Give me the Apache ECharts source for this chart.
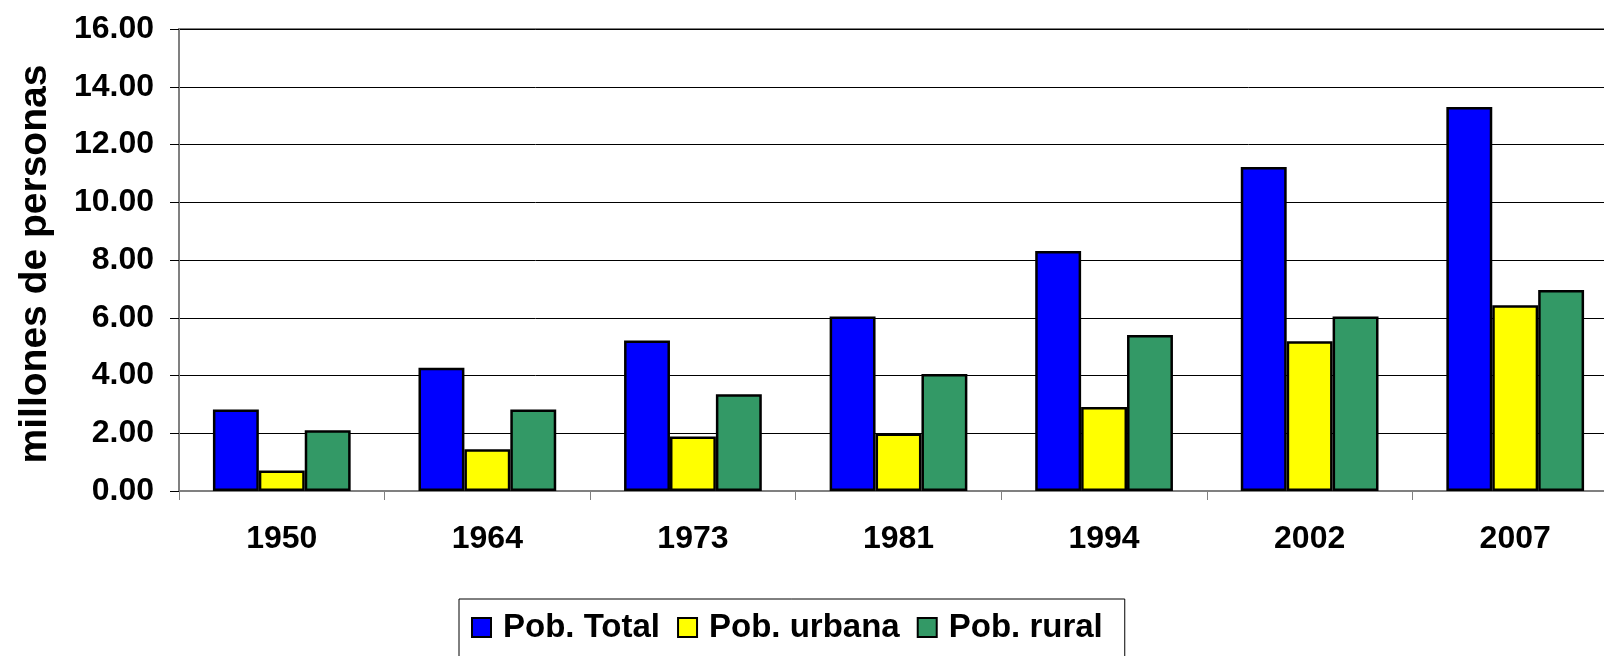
<!DOCTYPE html>
<html>
<head>
<meta charset="utf-8">
<title>Población total, urbana y rural</title>
<script src="https://cdn.jsdelivr.net/npm/echarts@6/dist/echarts.min.js"></script>
<style>
  html, body { margin: 0; padding: 0; background: #fff; }
  #popChart { width: 1604px; height: 656px; }
</style>
</head>
<body>
<div id="popChart"></div>
<script>
// census years
const years = ['1950', '1964', '1973', '1981', '1994', '2002', '2007'];
// millions of people
const pobTotal  = [2.82, 4.27, 5.21, 6.04, 8.31, 11.22, 13.30];
const pobUrbana = [0.71, 1.45, 1.89, 1.99, 2.91, 5.19, 6.43];
const pobRural  = [2.10, 2.82, 3.35, 4.05, 5.40, 6.04, 6.96];

const seriesNames = ['Pob. Total', 'Pob. urbana', 'Pob. rural'];
const seriesColors = ['#0000ff', '#ffff00', '#339966'];

const font = 'Liberation Sans, Arial, sans-serif';

let chart = echarts.init(document.getElementById('popChart'), null, { renderer: 'canvas' });

function makeBar(name, data, color) {
  return {
    name: name,
    type: 'bar',
    data: data,
    barGap: '0%',
    barCategoryGap: '33%',
    itemStyle: {
      color: color,
      borderColor: '#000',
      borderWidth: 2.5
    }
  }
}

let options = {
  animation: false,
  backgroundColor: '#fff',
  textStyle: { fontFamily: font },
  grid: {
    show: true,
    left: 179,
    top: 29,
    right: -14,
    bottom: 165,
    borderColor: '#808080',
    borderWidth: 2,
    containLabel: false,
    outerBoundsMode: 'none'
  },
  legend: {
    data: seriesNames,
    left: 459,
    top: 599,
    orient: 'horizontal',
    borderColor: '#000',
    borderWidth: 1,
    padding: [12, 22, 30, 12],
    itemWidth: 19,
    itemHeight: 19,
    itemGap: 17,
    icon: 'rect',
    textStyle: {
      fontFamily: font,
      fontWeight: 'bold',
      fontSize: 33,
      color: '#000',
      padding: [0, 0, 0, 7]
    }
  },
  xAxis: {
    type: 'category',
    data: years,
    axisLine: { lineStyle: { color: '#808080', width: 2 } },
    axisTick: { show: true, length: 9, lineStyle: { color: '#808080', width: 1 } },
    axisLabel: {
      margin: 32,
      fontFamily: font,
      fontWeight: 'bold',
      fontSize: 32,
      color: '#000'
    }
  },
  yAxis: {
    type: 'value',
    min: 0,
    max: 16,
    interval: 2,
    name: 'millones de personas',
    nameLocation: 'middle',
    nameRotate: 90,
    nameGap: 124,
    nameTextStyle: {
      fontFamily: font,
      fontWeight: 'bold',
      fontSize: 39,
      color: '#000',
      padding: [0, 8, 0, 0]
    },
    axisLine: { show: true, lineStyle: { color: '#808080', width: 2 } },
    axisTick: { show: true, length: 9, lineStyle: { color: '#000', width: 1 } },
    splitLine: { show: true, lineStyle: { color: '#000', width: 1 } },
    axisLabel: {
      margin: 25,
      fontFamily: font,
      fontWeight: 'bold',
      fontSize: 32,
      color: '#000',
      formatter: v => v.toFixed(2)
    }
  },
  series: [
    makeBar(seriesNames[0], pobTotal, seriesColors[0]),
    makeBar(seriesNames[1], pobUrbana, seriesColors[1]),
    makeBar(seriesNames[2], pobRural, seriesColors[2])
  ]
};

chart.setOption(options);
</script>
</body>
</html>
